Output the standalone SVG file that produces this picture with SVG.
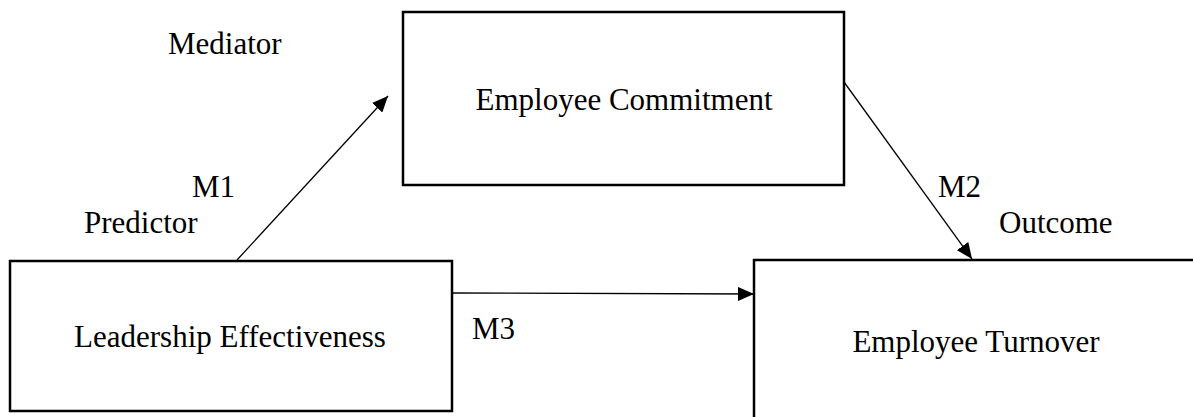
<svg xmlns="http://www.w3.org/2000/svg" width="1193" height="417" viewBox="0 0 1193 417">
<style>
.box{fill:#fff;stroke:#000;stroke-width:2.5}
.lbl{font-family:"Liberation Serif","Times New Roman",serif;font-size:31px;fill:#000}
.mid{text-anchor:middle}
.conn{stroke:#000;stroke-width:1.3;fill:none;marker-end:url(#arrow)}
</style>
<defs>
<marker id="arrow" markerUnits="userSpaceOnUse" markerWidth="18" markerHeight="14" refX="16" refY="7" orient="auto">
<path d="M0,0 L16,7 L0,14 z" fill="#000"/>
</marker>
</defs>
<rect width="1193" height="417" fill="#fff"/>
<g id="node-commitment">
<rect class="box" x="403" y="12" width="441" height="173"/>
<text class="lbl mid" x="624" y="110">Employee Commitment</text>
</g>
<g id="node-leadership">
<rect class="box" x="10" y="261" width="442" height="150"/>
<text class="lbl mid" x="230" y="347">Leadership Effectiveness</text>
</g>
<g id="node-turnover">
<rect class="box" x="754" y="260" width="443" height="165"/>
<text class="lbl mid" x="976" y="352">Employee Turnover</text>
</g>
<g id="connectors">
<line class="conn" x1="237" y1="260" x2="388" y2="96"/>
<line class="conn" x1="844" y1="82" x2="972" y2="259"/>
<line class="conn" x1="452" y1="293" x2="754" y2="294"/>
</g>
<g id="labels">
<text class="lbl" x="168" y="54">Mediator</text>
<text class="lbl" x="192" y="197">M1</text>
<text class="lbl" x="84" y="233">Predictor</text>
<text class="lbl" x="938" y="197">M2</text>
<text class="lbl" x="999" y="233">Outcome</text>
<text class="lbl" x="472" y="339">M3</text>
</g>
</svg>
